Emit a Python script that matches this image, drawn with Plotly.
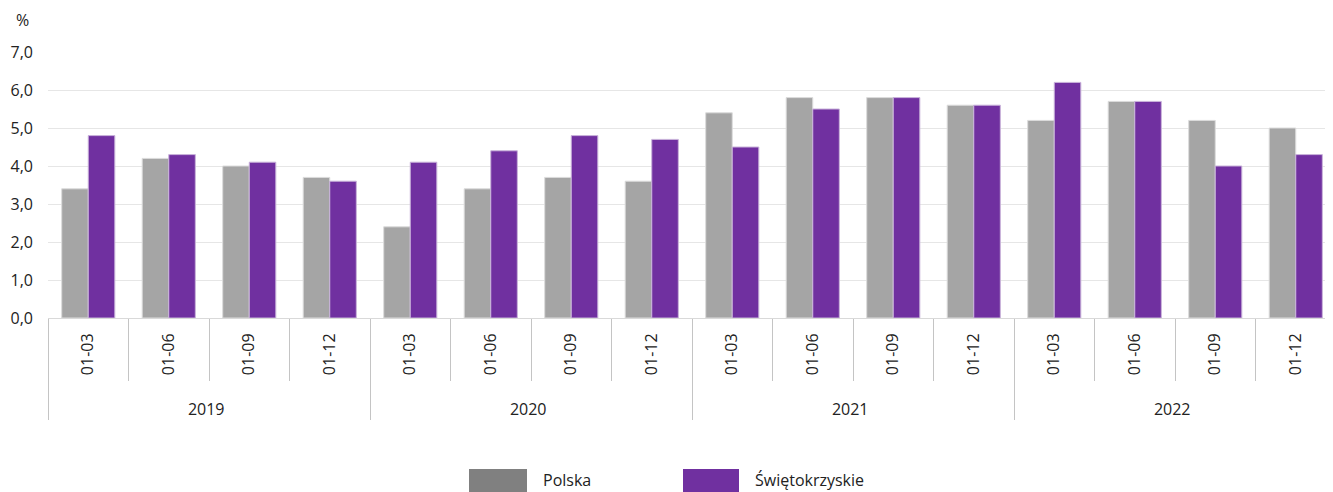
import plotly.graph_objects as go

years = ["2019", "2020", "2021", "2022"]
periods = ["01-03", "01-06", "01-09", "01-12"]
polska = [3.4, 4.2, 4.0, 3.7, 2.4, 3.4, 3.7, 3.6, 5.4, 5.8, 5.8, 5.6, 5.2, 5.7, 5.2, 5.0]
swietokrzyskie = [4.8, 4.3, 4.1, 3.6, 4.1, 4.4, 4.8, 4.7, 4.5, 5.5, 5.8, 5.6, 6.2, 5.7, 4.0, 4.3]

x_year = [y for y in years for _ in periods]
# leading nbsp pads the rotated labels so the year row sits lower
x_period = ["\u00a0" * 4 + p for _ in years for p in periods]

GREY = "#a5a5a5"
PURPLE = "#7030a0"
FONT = "Open Sans"

# page body has an 8px margin, so the figure is shifted by that much
OFF = 8
PLOT_L, PLOT_T, PLOT_B, PLOT_W = 48, 52, 318, 1288
PLOT_H = PLOT_B - PLOT_T


def px(sx):
    return (sx - PLOT_L) / PLOT_W


def py(sy):
    return (PLOT_B - sy) / PLOT_H


fig = go.Figure()
fig.add_trace(go.Bar(x=[x_year, x_period], y=polska, name="Polska",
                     marker=dict(color=GREY, line=dict(color="#dcdcdc", width=1))))
fig.add_trace(go.Bar(x=[x_year, x_period], y=swietokrzyskie, name="Świętokrzyskie",
                     marker=dict(color=PURPLE, line=dict(color="#c9b3da", width=1))))

fig.update_layout(
    width=PLOT_L - OFF + PLOT_W, height=492 - OFF,
    margin=dict(l=PLOT_L - OFF, r=0, t=PLOT_T - OFF, b=492 - PLOT_B),
    paper_bgcolor="white", plot_bgcolor="white",
    font=dict(family=FONT, size=16, color="#222222"),
    separators=", ",
    barmode="group", bargap=0.34, bargroupgap=0,
    showlegend=False,
)
fig.update_xaxes(
    type="multicategory",
    showline=True, linecolor="#d9d9d9", linewidth=1,
    ticks="outside", tickson="boundaries", ticklen=62, tickcolor="#c4c4c4",
    tickangle=-90, ticklabelstandoff=8,
    showdividers=True, dividercolor="#c4c4c4", dividerwidth=1,
    tickfont=dict(family=FONT, size=16),
)
fig.update_yaxes(
    range=[0, 7], dtick=1, tickformat=".1f",
    showgrid=True, gridcolor="#e6e6e6", gridwidth=1,
    zeroline=False, ticks="", ticklabelstandoff=14,
    tickfont=dict(family=FONT, size=16),
)

fig.add_annotation(text="%", xref="paper", yref="paper", x=px(22), y=py(20),
                   showarrow=False, font=dict(size=16), xanchor="center", yanchor="middle")

# legend drawn by hand to get the wide swatches
for x0, x1, col, label, tx in [(469, 527, "#808080", "Polska", 541), (683, 739, PURPLE, "Świętokrzyskie", 753)]:
    fig.add_shape(type="rect", xref="paper", yref="paper",
                  x0=px(x0), x1=px(x1), y0=py(492), y1=py(469),
                  fillcolor=col, line=dict(color=col, width=0))
    fig.add_annotation(text=label, xref="paper", yref="paper", x=px(tx), y=py(480),
                       showarrow=False, xanchor="left", yanchor="middle", font=dict(size=16))

fig.write_html("out.html")
